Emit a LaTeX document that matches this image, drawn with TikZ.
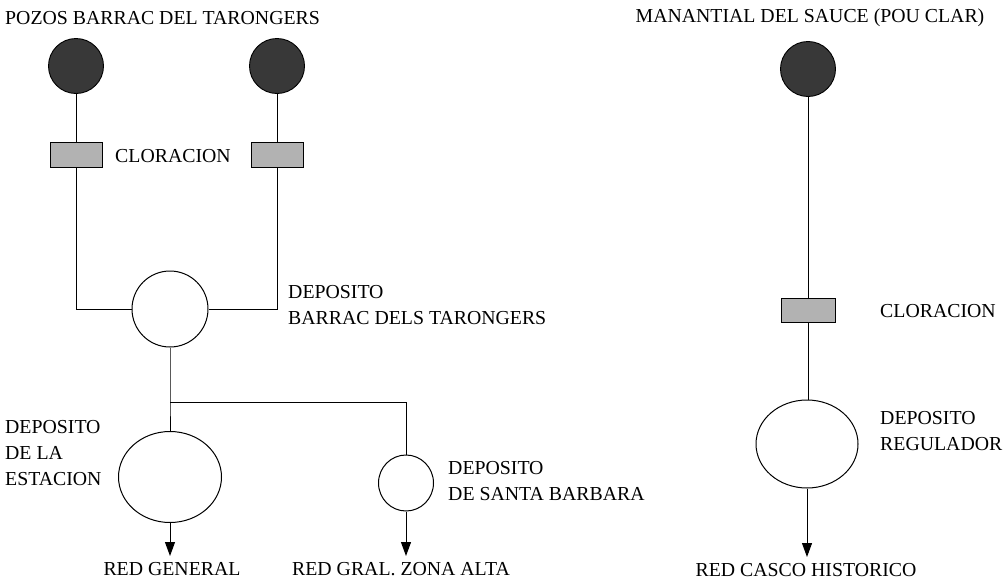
\documentclass[tikz,border=0pt]{standalone}
\usepackage{fontspec}
\setmainfont{Liberation Serif}
\usetikzlibrary{shapes.geometric,arrows.meta}
\begin{document}
\begin{tikzpicture}[x=1pt,y=-1pt,
  every node/.style={font=\fontsize{19.8}{26}\selectfont, inner sep=0pt},
  well/.style={circle, draw=black, line width=0.9pt, fill=black!78, minimum size=55pt},
  chlor/.style={rectangle, draw=black, line width=0.9pt, fill=black!30, minimum width=52pt, minimum height=25pt},
  tank/.style={ellipse, draw=black, line width=1pt, fill=white},
  lbl/.style={anchor=west, align=left},
  pipe/.style={line width=0.8pt},
  flow/.style={line width=1pt, -{Triangle[length=14pt,width=10pt]}}
]
\useasboundingbox (0,0) rectangle (1008,581);

% titles
\node[anchor=west] (t1) at (5,18) {POZOS BARRAC DEL TARONGERS};
\node (t2) at (810,18) {MANANTIAL DEL SAUCE (POU CLAR)};

% left system
\node[well] (w1) at (76,66) {};
\node[well] (w2) at (277,66) {};
\node[chlor] (c1) at (76,155) {};
\node[chlor] (c2) at (277,155) {};
\node[lbl] (lc1) at (115,156) {CLORACION};
\node[tank, minimum width=76pt, minimum height=76pt] (d1) at (170,309) {};
\node[lbl] (ld1) at (288,305) {DEPOSITO\\BARRAC DELS TARONGERS};
\coordinate (j) at (170,402);
\coordinate (jr) at (406,402);
\node[tank, minimum width=103pt, minimum height=91pt] (e) at (170,477) {};
\node[lbl] (le) at (5,453) {DEPOSITO\\DE LA\\ESTACION};
\node[tank, minimum width=55pt, minimum height=56pt] (s) at (406,483) {};
\node[lbl] (ls) at (448,481) {DEPOSITO\\DE SANTA BARBARA};
\coordinate (ae) at (170,556);
\coordinate (as) at (406,556);
\node (re) at (172,569) {RED GENERAL};
\node (rs) at (401,569) {RED GRAL. ZONA ALTA};

\draw[pipe] (w1) -- (c1);
\draw[pipe] (w2) -- (c2);
\draw[pipe] (c1) |- (d1);
\draw[pipe] (c2) |- (d1);
\draw[pipe] (d1) -- (j) -- (e);
\draw[pipe] (j) -- (jr) -- (s);
\draw[flow] (e) -- (ae);
\draw[flow] (s) -- (as);

% right system
\node[well] (w3) at (808,69) {};
\node[chlor, minimum width=54pt, minimum height=24pt] (c3) at (808,310) {};
\node[lbl] (lc3) at (880,311) {CLORACION};
\node[tank, minimum width=102pt, minimum height=88pt] (r) at (807,444) {};
\node[lbl] (lr) at (880,431) {DEPOSITO\\REGULADOR};
\coordinate (ar) at (807,557);
\node (rr) at (806,570) {RED CASCO HISTORICO};

\draw[pipe] (w3) -- (c3);
\draw[pipe] (c3) -- (c3 |- r.north);
\draw[flow] (r) -- (ar);
\end{tikzpicture}
\end{document}
